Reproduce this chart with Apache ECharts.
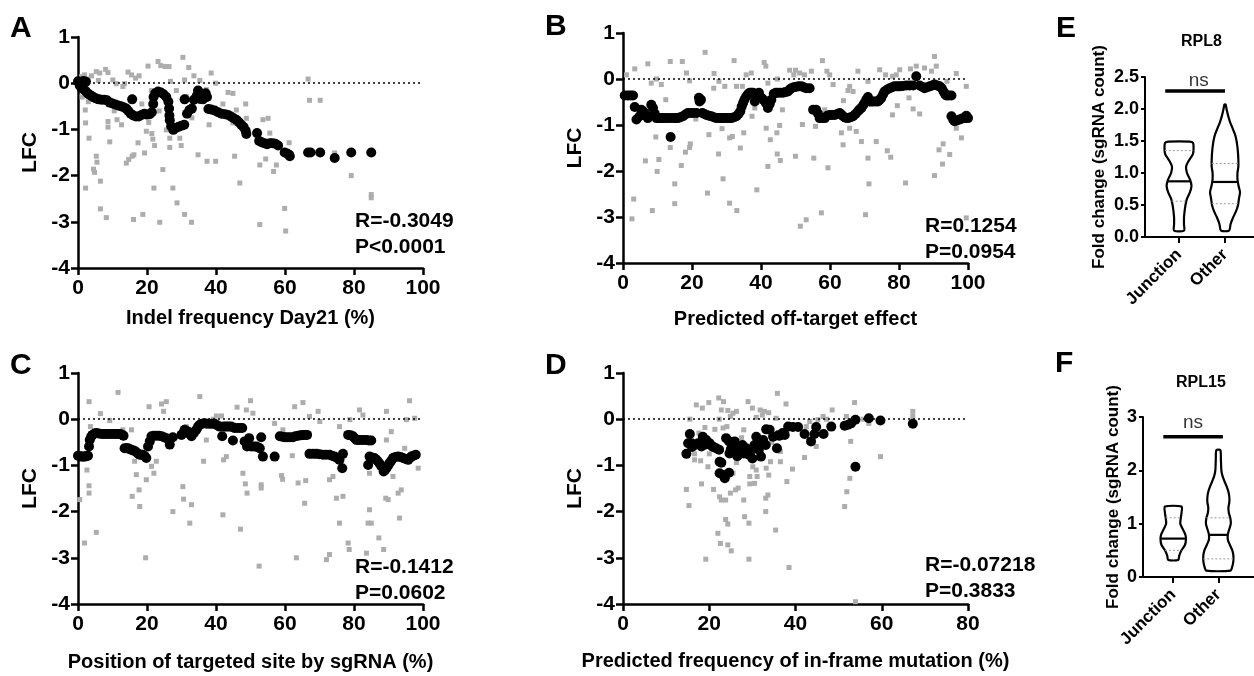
<!DOCTYPE html>
<html><head><meta charset="utf-8">
<script src="https://cdn.jsdelivr.net/npm/echarts@6/dist/echarts.min.js"></script>
<style>html,body{margin:0;padding:0;background:#fff}#c{width:1254px;height:676px}</style>
</head><body><div id="c"></div>
<script>
// ---------------- DATA ----------------
const grayA = [[1.0,0.14],[1.9,0.18],[2.9,0.09],[3.9,0.16],[5.3,0.25],[6.3,0.22],[5.9,0.06],[8.0,0.30],[8.7,0.23],[10.1,0.07],[11.1,-0.01],[13.5,-0.01],[14.5,0.24],[15.5,0.18],[16.7,0.11],[17.7,0.16],[20.3,0.37],[23.2,0.47],[24.0,0.38],[25.3,0.36],[26.4,0.36],[26.8,0.04],[30.4,0.56],[30.9,0.07],[32.1,0.34],[33.6,0.16],[35.3,0.06],[38.6,0.22],[39.9,0.0],[43.5,-0.2],[44.9,-0.22],[28.5,-0.16],[21.3,-0.16],[2.1,-0.58],[2.2,-0.86],[3.2,-1.19],[5.5,-1.71],[4.8,-1.93],[4.5,-1.86],[6.5,-2.12],[2.2,-2.27],[6.5,-2.72],[8.2,-2.91],[8.7,-0.83],[8.7,-0.95],[9.2,-1.27],[11.3,-0.79],[12.6,-0.9],[14.0,-1.73],[14.7,-1.65],[15.7,-1.58],[16.2,-1.55],[17.4,-1.29],[18.8,-2.84],[16.1,-2.95],[19.3,-1.51],[19.8,-1.04],[21.4,-1.09],[21.7,-1.21],[22.2,-1.35],[22.0,-2.27],[23.7,-3.01],[24.6,-1.87],[25.6,-1.01],[26.6,-1.19],[27.5,-2.27],[28.7,-2.59],[29.5,-1.19],[29.9,-1.35],[26.6,-1.39],[30.9,-2.84],[32.9,-3.01],[34.8,-1.55],[37.4,-1.69],[38.0,-0.9],[39.9,-1.69],[40.1,-0.59],[45.4,-1.58],[45.9,-0.58],[46.9,-2.16],[48.6,-0.45],[48.8,-0.76],[52.7,-1.77],[52.7,-3.06],[53.6,-0.79],[55.1,-0.76],[54.4,-1.64],[55.6,-1.08],[57.5,-1.77],[56.7,-1.91],[59.9,-2.71],[60.2,-3.2],[61.2,-1.29],[66.7,0.09],[67.1,-0.37],[70.2,-0.37],[74.4,-1.51],[79.2,-2.0],[85.0,-2.41],[85.0,-2.48],[5.3,-1.58],[13.0,-0.07],[37.2,-0.14],[31.4,-0.29],[44.9,-0.86],[48.8,-1.01],[1.2,-0.3],[3.0,-0.4],[10.5,-0.6],[18.5,-0.45],[20.5,-0.85],[23.5,-0.6],[33.0,-0.75],[42.0,-0.45]];
const blackA = [[0,0.04],[0.8,0.02],[1.6,0.05],[2.3,0.03],[0.5,-0.05],[1.0,-0.1],[1.5,-0.13],[2.2,-0.17],[2.8,-0.22],[3.4,-0.25],[4.0,-0.28],[4.6,-0.31],[5.3,-0.33],[6.0,-0.35],[6.8,-0.36],[7.6,-0.36],[8.4,-0.37],[9.2,-0.42],[10.0,-0.44],[10.8,-0.46],[11.6,-0.48],[12.4,-0.5],[13.2,-0.52],[14.0,-0.55],[14.6,-0.6],[15.7,-0.35],[15.3,-0.66],[16.0,-0.7],[16.8,-0.72],[17.6,-0.72],[18.4,-0.69],[19.2,-0.66],[20.0,-0.68],[20.8,-0.67],[21.4,-0.63],[21.8,-0.45],[21.9,-0.3],[22.4,-0.22],[23.2,-0.18],[24.0,-0.2],[24.8,-0.24],[25.6,-0.3],[26.2,-0.4],[26.4,-0.55],[26.5,-0.7],[26.6,-0.8],[27.0,-0.93],[27.6,-1.01],[28.4,-0.97],[29.2,-0.94],[30.0,-0.92],[30.8,-0.9],[30.9,-0.35],[31.6,-0.66],[32.3,-0.58],[33.0,-0.55],[33.6,-0.36],[34.4,-0.28],[34.8,-0.16],[35.4,-0.34],[36.2,-0.35],[37.0,-0.22],[37.4,-0.3],[37.8,-0.56],[38.6,-0.57],[39.6,-0.59],[40.6,-0.63],[41.6,-0.66],[42.6,-0.67],[43.5,-0.69],[44.3,-0.72],[45.1,-0.76],[45.9,-0.79],[46.6,-0.84],[47.3,-0.9],[48.0,-0.95],[48.6,-1.03],[48.8,-1.1],[51.9,-1.08],[52.5,-1.25],[53.2,-1.28],[54.0,-1.3],[54.8,-1.32],[55.6,-1.3],[56.4,-1.3],[57.2,-1.31],[58.0,-1.35],[59.9,-1.5],[60.6,-1.52],[61.2,-1.55],[61.4,-1.58],[66.7,-1.5],[67.4,-1.5],[70.2,-1.5],[74.4,-1.62],[79.2,-1.5],[85.0,-1.5]];

const grayB = [[1.0,0.09],[3.4,0.22],[7.2,0.33],[8.2,-0.09],[9.7,0.0],[11.1,-0.12],[12.4,-0.45],[13.7,0.38],[17.2,0.38],[18.4,0.13],[19.3,-0.04],[23.8,0.58],[26.3,-0.2],[26.4,0.12],[27.8,-0.05],[29.5,-0.16],[32.2,0.40],[32.9,-0.16],[34.6,-0.16],[35.7,0.09],[37.2,0.13],[40.9,0.36],[41.4,0.28],[42.0,-0.09],[44.7,0.0],[48.3,0.19],[49.5,0.09],[50.0,0.19],[51.2,0.13],[52.6,0.09],[54.6,0.17],[57.8,0.40],[59.1,0.17],[59.9,0.09],[60.9,-0.12],[65.7,-0.16],[66.7,-0.27],[68.1,0.17],[71.0,-0.05],[74.4,0.20],[76.1,0.09],[78.1,0.06],[79.2,0.09],[80.2,0.20],[83.3,0.22],[85.0,0.28],[87.4,0.24],[89.4,0.17],[90.3,0.49],[90.8,0.28],[93.9,-0.05],[96.6,0.12],[99.5,-0.16],[3.1,-2.61],[2.6,-3.04],[6.5,-1.78],[8.5,-2.86],[9.5,-1.26],[9.9,-2.01],[10.4,-1.75],[13.7,-1.49],[15.0,-2.28],[15.0,-2.71],[16.9,-1.88],[18.1,-1.59],[19.3,-1.49],[19.5,-1.41],[21.1,-0.87],[24.5,-2.48],[24.9,-1.21],[27.7,-1.63],[28.7,-1.08],[29.0,-2.17],[30.9,-1.28],[31.7,-1.25],[30.9,-2.70],[33.0,-2.86],[34.0,-1.50],[35.0,-1.17],[37.4,-0.81],[38.2,-0.63],[38.8,-2.41],[41.5,-1.07],[42.0,-1.90],[42.7,-1.32],[44.6,-1.17],[44.7,-1.63],[45.6,-1.77],[45.4,-1.01],[46.2,-0.67],[50.0,-1.68],[51.4,-3.20],[52.0,-0.99],[53.1,-3.06],[55.3,-1.72],[55.8,-1.03],[57.5,-2.91],[58.5,-0.67],[59.4,-1.93],[63.3,-1.17],[63.8,-1.43],[63.9,-0.47],[65.2,-0.25],[65.7,-1.07],[67.6,-1.14],[69.1,-1.36],[70.3,-2.95],[71.0,-1.72],[71.3,-2.28],[73.4,-1.36],[76.6,-1.56],[77.6,-1.70],[78.1,-0.78],[79.5,-0.58],[81.9,-2.26],[82.9,-0.41],[84.1,-0.65],[86.0,-0.76],[90.3,-2.10],[91.6,-1.54],[92.8,-1.41],[92.6,-1.85],[94.7,-1.64],[96.6,-1.07],[98.1,-1.28],[99.5,-3.02]];
const blackB = [[0.5,-0.36],[1.4,-0.36],[2.2,-0.36],[2.9,-0.36],[3.4,-0.61],[3.9,-0.88],[4.8,-0.81],[5.3,-0.67],[5.8,-0.7],[6.3,-0.74],[6.8,-0.8],[7.2,-0.85],[8.2,-0.56],[8.7,-0.63],[9.2,-0.75],[9.7,-0.85],[10.4,-0.85],[11.1,-0.85],[11.8,-0.85],[12.6,-0.85],[13.8,-1.26],[13.5,-0.85],[14.5,-0.85],[15.2,-0.85],[15.9,-0.85],[16.6,-0.83],[17.4,-0.81],[18.1,-0.77],[18.8,-0.74],[19.6,-0.74],[20.3,-0.74],[21.3,-0.74],[22.0,-0.41],[22.2,-0.49],[22.6,-0.45],[23.0,-0.74],[23.6,-0.76],[24.2,-0.78],[24.9,-0.8],[25.6,-0.81],[26.3,-0.83],[27.1,-0.85],[27.8,-0.85],[28.5,-0.85],[29.2,-0.85],[30.0,-0.85],[30.7,-0.85],[31.4,-0.85],[32.2,-0.83],[32.9,-0.81],[33.5,-0.76],[34.0,-0.7],[34.4,-0.6],[34.8,-0.52],[35.2,-0.45],[35.7,-0.38],[36.2,-0.33],[36.7,-0.3],[37.2,-0.3],[37.7,-0.3],[38.2,-0.49],[38.8,-0.4],[39.4,-0.3],[40.1,-0.41],[40.7,-0.45],[41.4,-0.52],[42.0,-0.63],[42.5,-0.55],[43.0,-0.45],[43.7,-0.32],[44.3,-0.3],[44.9,-0.3],[45.6,-0.3],[46.4,-0.3],[47.1,-0.28],[47.8,-0.27],[48.3,-0.23],[48.8,-0.2],[49.5,-0.18],[50.2,-0.17],[50.9,-0.16],[51.7,-0.16],[52.4,-0.18],[53.1,-0.2],[54.1,-0.2],[55.1,-0.67],[56.0,-0.67],[56.5,-0.75],[57.0,-0.85],[57.8,-0.85],[58.5,-0.85],[59.2,-0.8],[59.9,-0.78],[60.6,-0.78],[61.4,-0.78],[62.1,-0.76],[62.8,-0.74],[63.3,-0.77],[63.8,-0.81],[64.5,-0.84],[65.2,-0.85],[66.0,-0.83],[66.7,-0.81],[67.4,-0.76],[68.1,-0.7],[68.6,-0.66],[69.1,-0.63],[69.6,-0.57],[70.0,-0.52],[70.5,-0.45],[71.0,-0.39],[71.5,-0.49],[72.0,-0.49],[72.5,-0.49],[73.2,-0.49],[73.9,-0.49],[74.4,-0.45],[74.9,-0.41],[75.4,-0.33],[75.8,-0.27],[76.6,-0.23],[77.3,-0.2],[78.0,-0.18],[78.7,-0.16],[79.5,-0.16],[80.2,-0.16],[81.1,-0.15],[82.1,-0.14],[83.1,-0.14],[84.1,-0.14],[85.0,0.06],[86.0,-0.14],[86.7,-0.17],[87.4,-0.2],[88.2,-0.18],[88.9,-0.16],[89.6,-0.14],[90.3,-0.12],[91.0,-0.14],[91.8,-0.16],[92.4,-0.2],[92.9,-0.27],[93.3,-0.32],[93.7,-0.36],[94.4,-0.36],[95.2,-0.36],[95.2,-0.81],[95.7,-0.88],[96.1,-0.92],[96.8,-0.9],[97.6,-0.88],[98.3,-0.86],[99.0,-0.85],[100,-0.85],[99.5,-0.8]];

const grayC = [[0.5,-1.74],[1.9,-2.68],[3.2,0.38],[3.6,-0.16],[2.6,-1.10],[3.2,-1.44],[3.2,-1.60],[5.3,-2.45],[6.5,0.12],[9.2,-0.03],[11.6,0.58],[13.0,-0.23],[15.5,-0.23],[15.7,-1.67],[16.4,-0.91],[16.9,-1.20],[17.7,-1.53],[17.9,-1.89],[19.6,-3.00],[19.8,-1.31],[20.6,0.27],[21.3,-1.02],[22.0,-1.17],[22.7,-0.91],[24.2,0.33],[24.8,0.17],[25.6,0.38],[27.5,-2.00],[30.4,-1.46],[30.6,-1.73],[31.4,-0.16],[32.4,-2.25],[32.9,-1.85],[33.1,-0.23],[35.3,0.49],[36.4,-0.91],[37.2,-0.45],[39.2,0.0],[40.1,0.07],[41.6,0.07],[42.0,-2.07],[42.2,-0.88],[43.0,-0.81],[45.0,-0.12],[46.1,0.26],[47.1,-2.38],[47.8,-1.17],[48.8,0.2],[48.5,-1.40],[49.0,-1.60],[50.0,0.40],[50.7,0.13],[53.1,-1.42],[53.1,-1.49],[52.5,-3.18],[57.0,-0.09],[59.0,-1.22],[59.3,-1.30],[59.4,-0.23],[62.1,-0.79],[62.8,0.27],[63.3,-3.00],[63.8,-1.38],[65.2,0.36],[65.7,-1.82],[66.0,-1.33],[67.1,0.06],[69.6,0.17],[70.1,-0.05],[72.0,-3.04],[72.9,-2.93],[72.9,-1.31],[73.9,-1.24],[74.9,-1.71],[75.8,-0.16],[75.8,-2.25],[76.8,-1.67],[78.3,-2.68],[78.6,-2.82],[78.8,-0.01],[81.6,0.20],[82.6,0.09],[83.6,-2.90],[84.1,-2.25],[84.5,-1.96],[84.5,-1.17],[85.0,-2.25],[85.5,-0.84],[87.2,-2.57],[88.6,-2.82],[89.4,0.17],[89.2,-1.71],[89.4,-0.45],[89.9,-1.74],[90.8,-0.27],[91.3,-1.24],[92.8,-1.60],[93.2,-2.14],[93.7,-1.53],[94.7,-0.63],[95.2,-0.01],[96.1,0.40],[98.6,-1.06],[97.6,0.02],[95.7,-0.81]];
const blackC = [[0,-0.79],[0.5,-0.8],[1.0,-0.81],[1.5,-0.81],[1.9,-0.81],[2.4,-0.8],[2.9,-0.79],[3.2,-0.59],[3.4,-0.45],[3.8,-0.38],[4.2,-0.34],[4.8,-0.31],[5.3,-0.3],[6.0,-0.31],[6.8,-0.32],[7.5,-0.32],[8.2,-0.32],[9.0,-0.32],[9.7,-0.32],[10.4,-0.32],[11.1,-0.32],[11.7,-0.32],[12.3,-0.32],[13.0,-0.35],[13.2,-0.36],[13.5,-0.63],[14.0,-0.63],[14.5,-0.63],[15.0,-0.65],[15.5,-0.66],[16.1,-0.68],[16.7,-0.7],[17.3,-0.74],[17.9,-0.77],[18.4,-0.77],[18.8,-0.77],[19.3,-0.8],[19.8,-0.84],[20.3,-0.59],[20.8,-0.48],[21.3,-0.37],[22.0,-0.36],[22.7,-0.36],[23.5,-0.36],[24.2,-0.37],[24.9,-0.39],[25.6,-0.41],[26.6,-0.55],[27.5,-0.39],[30.0,-0.34],[30.5,-0.3],[30.9,-0.23],[31.4,-0.25],[31.9,-0.27],[32.4,-0.32],[32.9,-0.37],[33.6,-0.3],[34.3,-0.23],[34.8,-0.16],[35.3,-0.12],[36.0,-0.1],[36.7,-0.09],[37.4,-0.1],[38.2,-0.1],[38.9,-0.1],[39.6,-0.1],[40.3,-0.13],[41.1,-0.16],[41.8,-0.37],[42.3,-0.16],[43.0,-0.16],[43.7,-0.16],[44.4,-0.16],[44.9,-0.46],[45.3,-0.19],[46.1,-0.19],[46.9,-0.19],[47.6,-0.19],[48.3,-0.48],[49.0,-0.59],[49.6,-0.41],[50.2,-0.59],[51.0,-0.59],[51.7,-0.59],[52.2,-0.61],[52.7,-0.63],[53.1,-0.39],[53.6,-0.81],[57.0,-0.81],[58.5,-0.37],[59.2,-0.38],[59.9,-0.39],[60.6,-0.39],[61.4,-0.39],[62.3,-0.39],[63.0,-0.37],[63.8,-0.36],[64.5,-0.35],[65.2,-0.34],[65.8,-0.34],[66.4,-0.34],[67.1,-0.75],[68.1,-0.75],[69.1,-0.75],[70.0,-0.76],[71.0,-0.77],[71.9,-0.77],[72.9,-0.77],[73.6,-0.79],[74.4,-0.81],[75.1,-0.84],[75.8,-0.88],[76.6,-1.06],[76.8,-0.75],[78.3,-0.34],[79.0,-0.35],[79.7,-0.37],[80.2,-0.41],[80.7,-0.45],[81.4,-0.45],[82.1,-0.45],[82.8,-0.45],[83.6,-0.45],[84.3,-0.46],[85.0,-0.46],[84.1,-0.99],[84.5,-0.81],[85.2,-0.83],[85.9,-0.84],[86.4,-0.87],[86.9,-0.91],[87.4,-0.96],[87.9,-1.02],[88.6,-1.13],[89.0,-1.1],[89.4,-1.06],[89.9,-1.0],[90.3,-0.95],[90.8,-0.9],[91.3,-0.84],[92.0,-0.82],[92.8,-0.81],[93.5,-0.82],[94.2,-0.84],[95.0,-0.86],[95.7,-0.88],[96.2,-0.84],[96.6,-0.81],[97.2,-0.79],[97.9,-0.77]];

const grayD = [[14.7,-1.52],[15.3,-1.87],[15.5,0.0],[17.0,0.31],[18.4,0.24],[19.9,0.36],[18.2,-1.40],[16.6,-0.88],[16.6,-0.75],[19.2,-3.03],[19.7,-1.03],[21.0,-1.52],[22.2,0.46],[23.3,0.38],[22.8,0.20],[24.3,0.19],[25.5,0.13],[26.3,0.17],[24.9,0.06],[22.3,0.0],[23.2,-0.19],[24.1,-0.16],[22.4,-1.68],[22.8,-1.75],[22.0,-2.47],[22.6,-2.69],[23.8,-2.17],[24.3,-2.27],[24.3,-2.72],[25.1,-2.85],[23.8,-1.75],[24.9,-1.60],[26.1,-1.53],[26.7,-1.49],[25.5,-1.17],[26.3,-0.94],[28.0,-1.75],[28.2,-2.11],[29.2,-2.25],[29.2,-3.03],[29.0,0.38],[28.0,-0.23],[30.0,0.24],[30.9,0.04],[31.8,0.20],[32.3,0.09],[29.4,-1.24],[29.4,-1.40],[30.5,-1.39],[31.1,-1.24],[30.1,-1.03],[30.9,-1.1],[33.1,-2.00],[33.1,-1.71],[33.6,-1.64],[33.8,-1.21],[33.2,-1.06],[34.2,-0.92],[32.8,0.17],[33.8,0.14],[35.5,0.02],[36.5,-0.70],[36.5,-0.92],[35.4,-2.40],[35.8,0.56],[37.8,0.33],[38.0,-1.35],[38.5,-3.21],[39.3,-1.08],[39.4,-0.14],[42.1,-0.83],[42.5,-0.16],[43.3,-0.05],[44.8,-0.59],[45.2,-0.01],[46.4,0.06],[47.2,0.0],[48.5,0.20],[51.4,-1.89],[51.9,-1.57],[52.6,-1.28],[52.8,-0.48],[51.8,0.06],[53.7,0.36],[53.9,-3.95],[57.0,-0.09],[59.7,-0.81],[67.2,0.17],[67.2,0.06],[53.4,-0.05],[55.7,0.0],[20.0,-0.75],[18.0,-0.9],[27.5,-0.4],[34.5,-0.5],[17.6,-0.3],[19.0,-0.18],[21.3,-0.22]];
const blackD = [[14.7,-0.75],[15.1,-0.52],[15.5,-0.32],[15.9,-0.52],[16.0,-0.6],[16.6,-0.56],[17.4,-0.52],[18.2,-0.59],[18.5,-0.38],[19.0,-0.55],[19.3,-0.45],[20.1,-0.52],[20.7,-0.59],[21.0,-0.6],[21.6,-0.63],[22.3,-0.66],[22.4,-0.92],[22.8,-0.94],[22.4,-1.17],[23.3,-1.21],[23.6,-1.28],[24.6,-1.16],[23.9,-0.41],[24.6,-0.48],[24.7,-0.74],[25.0,-0.65],[25.3,-0.56],[25.9,-0.48],[26.1,-0.74],[26.5,-0.8],[26.7,-0.63],[27.0,-0.72],[27.7,-0.56],[28.0,-0.74],[28.6,-0.63],[29.2,-0.77],[29.5,-0.7],[30.0,-0.85],[30.5,-0.56],[30.9,-0.38],[31.0,-0.55],[31.5,-0.66],[32.0,-0.81],[32.5,-0.45],[33.1,-0.56],[33.2,-0.22],[34.0,-0.23],[34.8,-0.38],[35.7,-0.63],[36.0,-0.35],[36.3,-0.36],[37.0,-0.3],[37.5,-0.34],[38.3,-0.16],[39.4,-0.17],[40.6,-0.17],[42.1,-0.32],[43.6,-0.48],[44.4,-0.32],[44.8,-0.17],[46.5,-0.32],[48.3,-0.16],[51.4,-0.14],[52.2,-0.12],[52.9,-0.09],[53.9,-0.01],[53.9,-1.03],[57.0,0.02],[59.7,-0.03],[67.2,-0.1]];

const xNames = ['Indel frequency Day21 (%)','Predicted off-target effect','Position of targeted site by sgRNA (%)','Predicted frequency of in-frame mutation (%)'];
const xMaxes = [100,100,100,80];
const statTexts = ['R=-0.3049\nP<0.0001','R=0.1254\nP=0.0954','R=-0.1412\nP=0.0602','R=-0.07218\nP=0.3833'];
const panelLetters = ['A','B','C','D','E','F'];

const violinCats = ['Junction','Other'];
// violin profiles: level (fold change) and relative density (half width, max = 1)
const eJuncY = [1.49,1.47,1.4,1.3,1.2,1.1,1.0,0.9,0.8,0.7,0.6,0.5,0.4,0.3,0.2,0.1];
const eJuncW = [0.7,0.93,0.97,0.93,0.67,0.47,0.53,0.73,0.83,0.73,0.53,0.43,0.37,0.33,0.33,0.33];
const eOtherY = [2.07,2.0,1.9,1.8,1.7,1.6,1.5,1.4,1.3,1.2,1.1,1.0,0.9,0.8,0.7,0.6,0.5,0.4,0.3,0.2,0.1];
const eOtherW = [0.04,0.1,0.2,0.33,0.5,0.67,0.77,0.83,0.87,0.89,0.89,0.83,0.83,0.9,1.0,0.93,0.87,0.73,0.53,0.37,0.27];
const fJuncY = [1.32,1.2,1.1,1.0,0.9,0.8,0.72,0.6,0.5,0.4,0.32];
const fJuncW = [0.55,0.55,0.5,0.47,0.63,0.8,0.85,0.78,0.55,0.4,0.33];
const fOtherY = [2.38,2.2,2.0,1.9,1.8,1.7,1.6,1.5,1.4,1.3,1.2,1.1,1.0,0.9,0.8,0.7,0.6,0.5,0.4,0.3,0.2,0.12];
const fOtherW = [0.13,0.17,0.2,0.27,0.4,0.55,0.67,0.73,0.73,0.67,0.7,0.8,0.83,0.73,0.63,0.63,0.77,0.93,1.0,1.0,0.93,0.8];
const eMedian = [0.87,0.86], eQ1 = [0.56,0.52], eQ3 = [1.35,1.15];
const fMedian = [0.72,0.79], fQ1 = [0.5,0.34], fQ3 = [1.11,1.11];
const eNs = {x1:0.7, x2:2.0, y:2.28, textX:1.43, textY:2.44};
const fNs = {x1:0.78, x2:2.1, y:2.63, textX:1.44, textY:2.9};

// ---------------- CHART ----------------
const FONT = "'Liberation Sans', Arial, Helvetica, sans-serif";
const chart = echarts.init(document.getElementById('c'));

const grids = [
  {left:78, top:37, width:345, height:231},
  {left:623, top:33, width:345, height:230},
  {left:78, top:373, width:345, height:231},
  {left:623, top:373, width:345, height:231},
  {left:1145, top:77, width:109, height:160},
  {left:1143, top:417, width:111, height:160}
].map(g => Object.assign({outerBoundsMode:'none', containLabel:false}, g));

const xGaps = [40, 46, 48, 47];
const xAxes = [], yAxes = [];
for (let i = 0; i < 4; i++) {
  xAxes.push({
    gridIndex:i, type:'value', min:0, max:xMaxes[i], interval:20,
    axisLine:{show:true, onZero:false, lineStyle:{color:'#000', width:2.5}},
    axisTick:{show:true, length:7, lineStyle:{color:'#000', width:2.5}},
    axisLabel:{fontSize:21, fontWeight:'bold', color:'#000', margin:10, fontFamily:FONT},
    splitLine:{show:false},
    name:xNames[i], nameLocation:'middle', nameGap:xGaps[i],
    nameTextStyle:{fontSize:20, fontWeight:'bold', color:'#000', fontFamily:FONT}
  });
  yAxes.push({
    gridIndex:i, type:'value', min:-4, max:1, interval:1,
    axisLine:{show:true, onZero:false, lineStyle:{color:'#000', width:2.5}},
    axisTick:{show:true, length:7, lineStyle:{color:'#000', width:2.5}},
    axisLabel:{fontSize:21, fontWeight:'bold', color:'#000', margin:8, fontFamily:FONT},
    splitLine:{show:false},
    name:'LFC', nameLocation:'middle', nameGap:37,
    nameTextStyle:{fontSize:21, fontWeight:'bold', color:'#000', fontFamily:FONT}
  });
}
const vx = [{min:0.26, max:2.63}, {min:0.33, max:2.79}];
const vy = [{max:2.5, interval:0.5, gap:37, fmt:v=>v.toFixed(1)}, {max:3, interval:1, gap:21, fmt:v=>String(v)}];
for (let k = 0; k < 2; k++) {
  xAxes.push({
    gridIndex:4+k, type:'value', min:vx[k].min, max:vx[k].max,
    axisLine:{show:true, onZero:false, lineStyle:{color:'#000', width:2}},
    axisTick:{show:true, length:6, customValues:[1,2], lineStyle:{color:'#000', width:2}},
    axisLabel:{show:true, customValues:[1,2], rotate:45, margin:15, fontSize:17, fontWeight:'bold', color:'#000', fontFamily:FONT,
      formatter:v => violinCats[Math.round(v)-1] || ''},
    splitLine:{show:false}
  });
  yAxes.push({
    gridIndex:4+k, type:'value', min:0, max:vy[k].max, interval:vy[k].interval,
    axisLine:{show:true, onZero:false, lineStyle:{color:'#000', width:2}},
    axisTick:{show:true, length:4, lineStyle:{color:'#000', width:2}},
    axisLabel:{fontSize:18, fontWeight:'bold', color:'#000', margin:6, fontFamily:FONT, formatter:vy[k].fmt},
    splitLine:{show:false},
    name:'Fold change (sgRNA count)', nameLocation:'middle', nameGap:vy[k].gap,
    nameTextStyle:{fontSize:17, fontWeight:'bold', color:'#000', fontFamily:FONT}
  });
}

const series = [];
const grays = [grayA, grayB, grayC, grayD], blacks = [blackA, blackB, blackC, blackD];
for (let i = 0; i < 4; i++) {
  series.push({
    type:'scatter', xAxisIndex:i, yAxisIndex:i, data:grays[i], symbol:'rect', symbolSize:5,
    itemStyle:{color:'#adadad', opacity:1}, z:2, silent:true,
    markLine:{silent:true, symbol:['none','none'], label:{show:false},
      lineStyle:{type:[2,3], color:'#000', width:1.6}, data:[{yAxis:0}]}
  });
  series.push({
    type:'scatter', xAxisIndex:i, yAxisIndex:i, data:blacks[i], symbol:'circle', symbolSize:10,
    itemStyle:{color:'#000', opacity:1}, z:3, silent:true
  });
}

function widthAt(ys, ws, level) {
  for (let k = 0; k < ys.length - 1; k++) {
    if (level <= ys[k] && level >= ys[k+1]) {
      const t = (ys[k] - level) / (ys[k] - ys[k+1]);
      return ws[k] + (ws[k+1] - ws[k]) * t;
    }
  }
  return ws[ws.length-1];
}
function violinSeries(axisIdx, profiles, medians, q1s, q3s, scale) {
  return {
    type:'custom', xAxisIndex:axisIdx, yAxisIndex:axisIdx, silent:true, z:3,
    data: profiles.map((p, i) => [i+1, i]),
    renderItem: (params, api) => {
      const idx = api.value(1), cx = api.value(0);
      const p = profiles[idx];
      const right = p.y.map((y, k) => api.coord([cx + p.w[k]*scale, y]));
      const left = p.y.map((y, k) => api.coord([cx - p.w[k]*scale, y])).reverse();
      const children = [{
        type:'polygon', shape:{points:right.concat(left), smooth:0.25},
        style:{fill:'#fff', stroke:'#000', lineWidth:2.2}
      }];
      const addLine = (level, style) => {
        const w = widthAt(p.y, p.w, level) * scale;
        const a = api.coord([cx - w, level]), b = api.coord([cx + w, level]);
        children.push({type:'line', shape:{x1:a[0], y1:a[1], x2:b[0], y2:b[1]}, style});
      };
      addLine(q1s[idx], {stroke:'#9a9a9a', lineWidth:1, lineDash:[2,2]});
      addLine(q3s[idx], {stroke:'#9a9a9a', lineWidth:1, lineDash:[2,2]});
      addLine(medians[idx], {stroke:'#000', lineWidth:2.2});
      return {type:'group', children};
    }
  };
}
series.push(violinSeries(4, [{y:eJuncY, w:eJuncW}, {y:eOtherY, w:eOtherW}], eMedian, eQ1, eQ3, 0.326));
series.push(violinSeries(5, [{y:fJuncY, w:fJuncW}, {y:fOtherY, w:fOtherW}], fMedian, fQ1, fQ3, 0.333));
[[4, eNs], [5, fNs]].forEach(([ai, ns]) => {
  series.push({type:'line', xAxisIndex:ai, yAxisIndex:ai, data:[[ns.x1, ns.y],[ns.x2, ns.y]],
    symbol:'none', silent:true, lineStyle:{color:'#000', width:3.5}, z:4});
  series.push({type:'scatter', xAxisIndex:ai, yAxisIndex:ai, data:[[ns.textX, ns.textY]], symbolSize:0, silent:true,
    label:{show:true, position:'inside', formatter:'ns', fontSize:19, color:'#000', fontFamily:FONT}});
});

const letterPos = [[10,14],[545,12],[10,351],[545,351],[1056,14],[1055,349]];
const titles = panelLetters.map((t, i) => ({
  text:t, left:letterPos[i][0], top:letterPos[i][1], padding:0,
  textStyle:{fontSize:30, fontWeight:'bold', color:'#000', fontFamily:FONT}
}));
const statPos = [[355,208],[925,213],[355,554],[925,552]];
statTexts.forEach((t, i) => titles.push({
  text:t, left:statPos[i][0], top:statPos[i][1], padding:0,
  textStyle:{fontSize:21, fontWeight:'bold', color:'#000', lineHeight:26, fontFamily:FONT}
}));
titles.push({text:'RPL8', left:1181, top:34, padding:0, textStyle:{fontSize:16, fontWeight:'bold', color:'#000', fontFamily:FONT}});
titles.push({text:'RPL15', left:1176, top:375, padding:0, textStyle:{fontSize:16, fontWeight:'bold', color:'#000', fontFamily:FONT}});

chart.setOption({
  animation:false,
  backgroundColor:'#fff',
  textStyle:{fontFamily:FONT},
  title:titles,
  grid:grids,
  xAxis:xAxes,
  yAxis:yAxes,
  series
});
</script>
</body></html>
